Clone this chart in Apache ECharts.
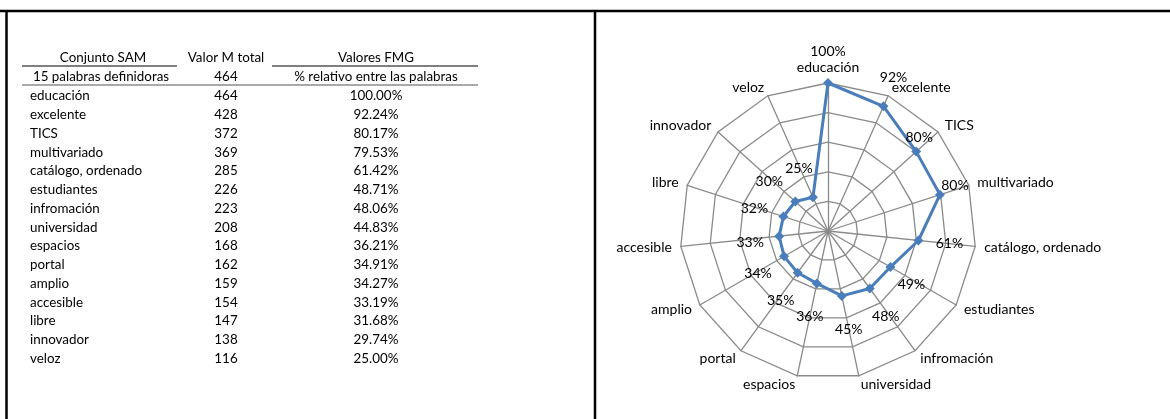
<!DOCTYPE html>
<html>
<head>
<meta charset="utf-8">
<title>Conjunto SAM</title>
<script src="https://cdn.jsdelivr.net/npm/echarts@6/dist/echarts.min.js"></script>
<style>
  html, body { margin: 0; padding: 0; background: #fff; }
  #chart { width: 1170px; height: 419px; }
</style>
</head>
<body>
<div id="chart"></div>
<script>
// datos de la tabla / radar
const palabras = ['educación', 'excelente', 'TICS', 'multivariado', 'catálogo, ordenado', 'estudiantes',
  'infromación', 'universidad', 'espacios', 'portal', 'amplio', 'accesible', 'libre', 'innovador', 'veloz']
const valorM = [464, 428, 372, 369, 285, 226, 223, 208, 168, 162, 159, 154, 147, 138, 116]
const valorFMG = [100.00, 92.24, 80.17, 79.53, 61.42, 48.71, 48.06, 44.83, 36.21, 34.91, 34.27, 33.19, 31.68, 29.74, 25.00]
const encabezado = ['Conjunto SAM', 'Valor M total', 'Valores FMG']
const subEncabezado = ['15 palabras definidoras', '464', '% relativo entre las palabras']

// desplazamiento de cada etiqueta de % respecto a su punto (px)
const labelOffsets = [[0, -32], [10, -29], [3, -14], [15, -9], [31, 3], [21, 17], [16, 28], [7, 34],
  [-7, 33], [-17, 28], [-26, 17], [-29, 6], [-29, -8], [-26, -20], [-14, -29]]

const FONT = 'Lato, "Open Sans", sans-serif'
const chart = echarts.init(document.getElementById('chart'), null, { renderer: 'canvas' })

// radar de echarts va en sentido antihorario, se invierte el orden para que quede horario
const orden = [0].concat(palabras.map((_, i) => i).slice(1).reverse())
const indicadores = orden.map(i => ({ name: palabras[i], min: 0, max: 100 }))
const valores = orden.map(i => valorFMG[i])

// una copia invisible por punto, solo para poner cada etiqueta donde va
const etiquetas = orden.map((i, pos) => ({
  value: valores,
  symbol: 'circle',
  symbolSize: 1,
  lineStyle: { width: 0, opacity: 0 },
  itemStyle: { color: 'transparent' },
  label: {
    show: true,
    position: 'inside',
    offset: labelOffsets[i],
    color: '#000',
    fontSize: 14,
    fontFamily: FONT,
    formatter: (p) => {
      const dim = p.dimensionIndex != null ? p.dimensionIndex : valores.indexOf(p.value)
      return dim === pos ? Math.round(valorFMG[i]) + '%' : ''
    }
  }
}))

// tabla de la izquierda
const COL_X = [30, 226, 376]
const ROW_Y0 = 96
const ROW_H = 18.75
const txt = (text, x, y, align) => ({
  type: 'text', x: x, y: y, silent: true,
  style: { text: text, fill: '#000', fontSize: 13.4, fontFamily: FONT, align: align, verticalAlign: 'middle' }
})
const linea = (x1, y1, x2, y2, color, w) => ({
  type: 'line', silent: true,
  shape: { x1: x1, y1: y1, x2: x2, y2: y2 },
  style: { stroke: color, lineWidth: w }
})

const graficos = [
  // marco
  linea(0, 11, 1170, 11, '#000', 2.5),
  linea(6.5, 10, 6.5, 419, '#000', 2.5),
  linea(595, 10, 595, 419, '#000', 2.5),
  // encabezados
  txt(encabezado[0], 103, 58, 'center'),
  txt(encabezado[1], 226, 58, 'center'),
  txt(encabezado[2], 376, 58, 'center'),
  linea(22, 66, 177, 66, '#000', 1.2),
  linea(272, 66, 478, 66, '#000', 1.2),
  txt(subEncabezado[0], 101, 77, 'center'),
  txt(subEncabezado[1], 226, 77, 'center'),
  txt(subEncabezado[2], 376, 77, 'center'),
  linea(22, 85, 478, 85, '#8c8c8c', 1.5)
]
palabras.forEach((p, i) => {
  const y = ROW_Y0 + i * ROW_H
  graficos.push(txt(p, COL_X[0], y, 'left'))
  graficos.push(txt(String(valorM[i]), COL_X[1], y, 'center'))
  graficos.push(txt(valorFMG[i].toFixed(2) + '%', COL_X[2], y, 'center'))
})

const option = {
  animation: false,
  backgroundColor: '#fff',
  graphic: graficos,
  radar: {
    center: [828, 231],
    radius: 148,
    startAngle: 90,
    shape: 'polygon',
    splitNumber: 5,
    nameGap: 9,
    indicator: indicadores,
    axisName: { color: '#000', fontSize: 14, fontFamily: FONT },
    splitLine: { lineStyle: { color: '#8a8a8a', width: 1.3 } },
    splitArea: { show: false },
    axisLine: { lineStyle: { color: '#8a8a8a', width: 1.3 } },
    axisTick: { show: false },
    axisLabel: { show: false }
  },
  series: [
    {
      type: 'radar',
      silent: true,
      z: 3,
      data: [
        {
          value: valores,
          symbol: 'diamond',
          symbolSize: 10,
          lineStyle: { color: '#4a7ebb', width: 3 },
          itemStyle: { color: '#4a7ebb' },
          label: { show: false }
        }
      ].concat(etiquetas)
    }
  ]
}
chart.setOption(option)
</script>
</body>
</html>
